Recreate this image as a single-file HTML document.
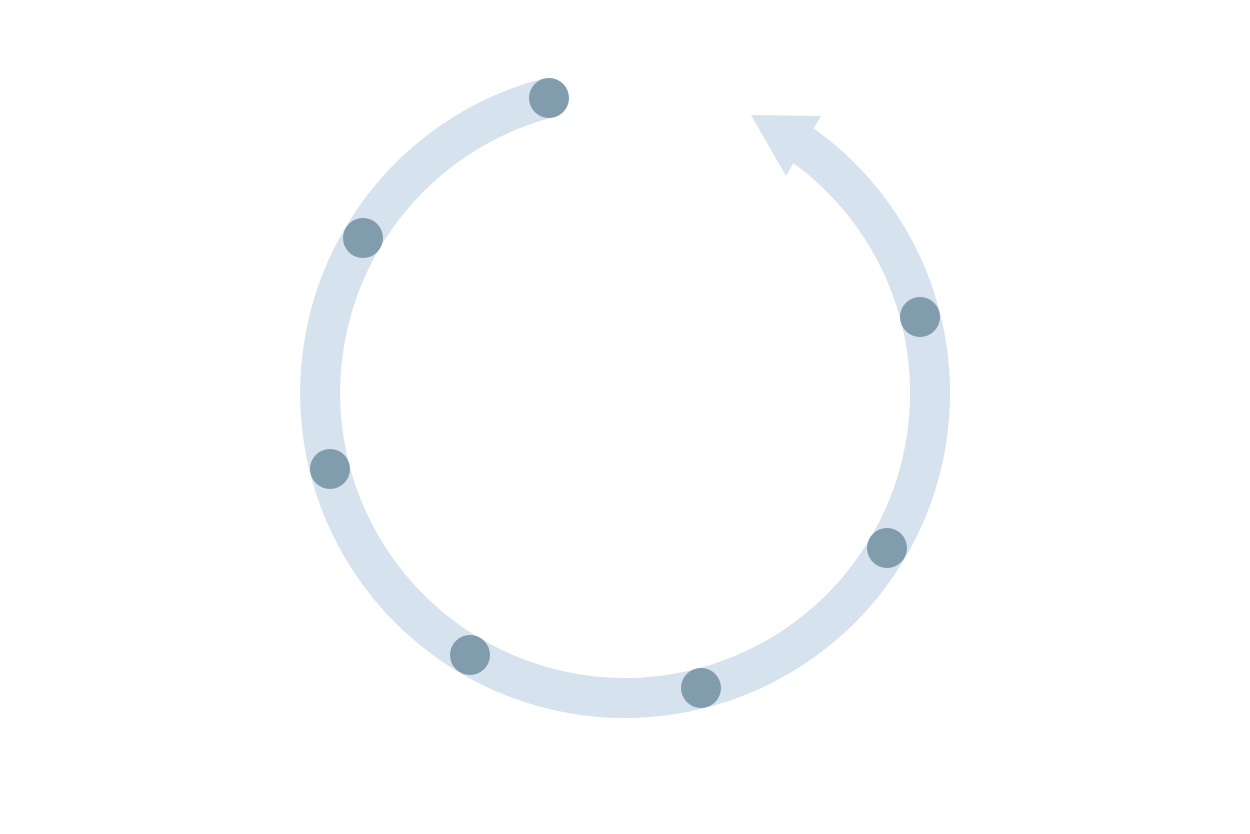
<!DOCTYPE html>
<html><head><meta charset="utf-8"><style>html,body{margin:0;padding:0;background:#fff;width:1250px;height:834px;overflow:hidden}</style></head>
<body>
<svg width="1250" height="834" viewBox="0 0 1250 834" xmlns="http://www.w3.org/2000/svg">
<path d="M549.2 97.6 A305 305 0 0 0 625 698 A305 305 0 0 0 802.3 144.8" fill="none" stroke="#d6e3ee" stroke-width="40"/>
<polygon points="751,115 821,116 786,176" fill="#d6e3ee"/>
<g fill="#809cad">
<circle cx="549" cy="98" r="20"/>
<circle cx="363" cy="238" r="20"/>
<circle cx="330" cy="469" r="20"/>
<circle cx="470" cy="655" r="20"/>
<circle cx="701" cy="688" r="20"/>
<circle cx="887" cy="548" r="20"/>
<circle cx="920" cy="317" r="20"/>
</g>
</svg>
</body></html>
